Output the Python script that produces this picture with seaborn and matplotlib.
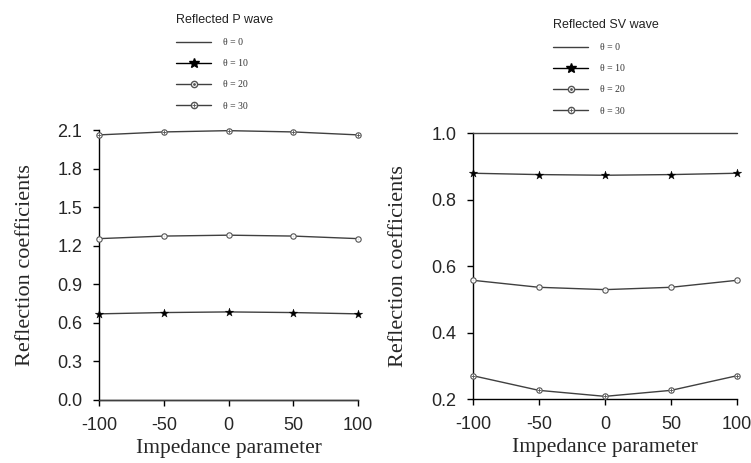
import numpy as np
import pandas as pd
import matplotlib
matplotlib.use("Agg")
import matplotlib.pyplot as plt
import seaborn as sns
from matplotlib.lines import Line2D
from matplotlib.legend_handler import HandlerTuple

sns.set_style("ticks")

impedance = [-100, -50, 0, 50, 100]
thetas = ["θ = 0", "θ = 10", "θ = 20", "θ = 30"]

# Reflected P wave (theta=0 lies on the x axis)
p_t0 = [0.0, 0.0, 0.0, 0.0, 0.0]
p_t10 = [0.670, 0.680, 0.685, 0.680, 0.670]
p_t20 = [1.255, 1.275, 1.282, 1.275, 1.255]
p_t30 = [2.062, 2.085, 2.095, 2.085, 2.062]

# Reflected SV wave
sv_t0 = [1.0, 1.0, 1.0, 1.0, 1.0]
sv_t10 = [0.879, 0.875, 0.873, 0.875, 0.879]
sv_t20 = [0.557, 0.536, 0.529, 0.536, 0.557]
sv_t30 = [0.270, 0.226, 0.208, 0.226, 0.270]

LC = "#404040"
MC = "#555555"
fig = plt.figure(figsize=(7.51, 4.63), dpi=100)
axL = fig.add_axes([0.1318, 0.1361, 0.345, 0.5831])
axR = fig.add_axes([0.6298, 0.1382, 0.3515, 0.5745])

def draw(ax, series):
    for vals, th in zip(series, thetas):
        df = pd.DataFrame({"x": impedance, "y": vals})
        sns.lineplot(data=df, x="x", y="y", ax=ax, color=LC, lw=1.0, clip_on=False, zorder=3)
        if th == "θ = 10":
            sns.scatterplot(data=df, x="x", y="y", ax=ax, marker="*", s=40, color="black",
                            edgecolor="black", linewidth=0.3, clip_on=False, zorder=4)
        elif th in ("θ = 20", "θ = 30"):
            sns.scatterplot(data=df, x="x", y="y", ax=ax, marker="o", s=15, facecolor="white",
                            edgecolor=MC, linewidth=0.8, clip_on=False, zorder=4)
            sns.scatterplot(data=df, x="x", y="y", ax=ax, marker="+" if th == "θ = 30" else ".",
                            s=10 if th == "θ = 30" else 4, color=MC, linewidth=0.6,
                            clip_on=False, zorder=5)

draw(axL, [p_t0, p_t10, p_t20, p_t30])
draw(axR, [sv_t0, sv_t10, sv_t20, sv_t30])

for ax in (axL, axR):
    ax.set_xlim(-100, 100)
    ax.set_xticks(impedance)
    ax.set_xticklabels(["-100", "-50", "0", "50", "100"])
    sns.despine(ax=ax)
    ax.tick_params(direction="out", length=4, width=1, color="black", labelsize=13, pad=8)
    for s in ("left", "bottom"):
        ax.spines[s].set_color("black")
        ax.spines[s].set_linewidth(1)
    ax.set_xlabel("Impedance parameter", family="Liberation Serif", fontsize=15.5, labelpad=4)
    ax.set_ylabel("Reflection coefficients", family="Liberation Serif", fontsize=16)

axL.set_ylim(0, 2.1)
axL.set_yticks([0.0, 0.3, 0.6, 0.9, 1.2, 1.5, 1.8, 2.1])
axL.set_yticklabels(["0.0", "0.3", "0.6", "0.9", "1.2", "1.5", "1.8", "2.1"])
axR.set_ylim(0.2, 1.0)
axR.set_yticks([0.2, 0.4, 0.6, 0.8, 1.0])
axR.set_yticklabels(["0.2", "0.4", "0.6", "0.8", "1.0"])
for t in axL.get_yticklabels() + axR.get_yticklabels() + axL.get_xticklabels() + axR.get_xticklabels():
    t.set_family("Liberation Sans")
axL.yaxis.set_label_coords(-0.247, 0.5)
axR.yaxis.set_label_coords(-0.246, 0.5)

def handles():
    h0 = Line2D([], [], color=LC, lw=1.0)
    h1 = Line2D([], [], color="black", lw=1.0, marker="*", markersize=7.5)
    h2 = (Line2D([], [], color=LC, lw=1.0, marker="o", markersize=4.5, mfc="white", mec=MC),
          Line2D([], [], ls="none", marker=".", markersize=2, color=MC))
    h3 = (Line2D([], [], color=LC, lw=1.0, marker="o", markersize=4.5, mfc="white", mec=MC),
          Line2D([], [], ls="none", marker="+", markersize=3.5, color=MC, mew=0.6))
    return [h0, h1, h2, h3]

def add_legend(ax, title, x, y):
    leg = ax.legend(handles(), thetas, title=title, loc="upper left",
                    bbox_to_anchor=(x / 751, 1 - y / 463), bbox_transform=fig.transFigure,
                    frameon=False, prop={"family": "Liberation Serif", "size": 7},
                    title_fontproperties={"family": "Liberation Sans", "size": 9},
                    handlelength=3.6, handletextpad=1.2, labelspacing=1.25, alignment="left",
                    handler_map={tuple: HandlerTuple(ndivide=1, pad=0)}, borderpad=0,
                    borderaxespad=0)
    for t in leg.get_texts():
        t.set_color("#333333")
    leg.get_title().set_color("#222222")

add_legend(axL, "Reflected P wave", 176, 14)
add_legend(axR, "Reflected SV wave", 553, 19)

fig.savefig("out.png", dpi=100)
